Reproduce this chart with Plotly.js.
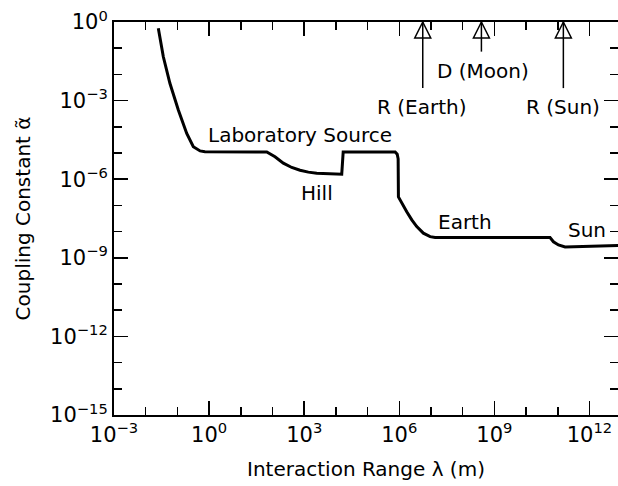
<!DOCTYPE html>
<html>
<head>
<meta charset="utf-8">
<script src="https://cdn.plot.ly/plotly-3.0.1.min.js"></script>
<style>html,body{margin:0;padding:0;background:#fff;}#chart{width:618px;height:486px;}</style>
</head>
<body>
<div id="chart"></div>
<script>
// Limit curve: interaction range lambda (m) vs coupling constant alpha
const lambdaM = [0.025, 0.036, 0.058, 0.107, 0.197, 0.318, 0.52, 0.74,
  66, 120, 220, 405, 740, 1350, 2490, 6550, 15300, 17000,
  740000, 860000, 920000, 940000, 1.2e6, 1.72e6, 2.48e6, 3.56e6, 5.75e6, 9.4e6, 1.35e7,
  5.7e10, 7.3e10, 1.05e11, 1.7e11, 8e12];
const alphaLimit = [0.58, 0.047, 4.6e-3, 4.4e-4, 5.6e-5, 1.74e-5, 1.2e-5, 1.12e-5,
  1.1e-5, 7.2e-6, 4.1e-6, 2.8e-6, 2.2e-6, 1.86e-6, 1.7e-6, 1.58e-6, 1.55e-6, 1.1e-5,
  1.1e-5, 9e-6, 6e-6, 2.1e-7, 1.2e-7, 5.7e-8, 2.8e-8, 1.55e-8, 8.7e-9, 6.4e-9, 5.9e-9,
  5.9e-9, 4.1e-9, 3.1e-9, 2.6e-9, 2.95e-9];

// Tick labels
const tickExponentsX = [-3, 0, 3, 6, 9, 12];
const tickExponentsY = [-15, -12, -9, -6, -3, 0];

// Reference scales marked with arrows at the top
const markerNames = ["R (Earth)", "D (Moon)", "R (Sun)"];
const markerLambda = [5.5e6, 3.9e8, 1.5e11];
const markerBase = [3e-3, 0.074, 3e-3];
const markerTip = [1, 1, 1];
const markerLabelAlpha = [5.7e-4, 0.0138, 5.7e-4];
const markerLabelLambda = [5.1e6, 4.4e8, 1.5e11];

// Region labels
const regionNames = ["Laboratory Source", "Hill", "Earth", "Sun"];
const regionLambda = [740, 2500, 1.2e8, 8.5e11];
const regionAlpha = [4.9e-5, 3e-7, 2.4e-8, 1.15e-8];

const FONT = "DejaVu Sans, Liberation Sans, Arial, sans-serif";

function powLabel(e) { return '10<sup>' + (e < 0 ? '\u2212' + (-e) : e) + '</sup>'; }

const traces = [{
  x: lambdaM, y: alphaLimit, type: 'scatter', mode: 'lines',
  line: {color: '#000', width: 3}, hoverinfo: 'skip', showlegend: false
}];
for (let i = 0; i < markerNames.length; i++) {
  traces.push({
    x: [markerLambda[i], markerLambda[i]], y: [markerBase[i], markerTip[i]],
    type: 'scatter', mode: 'lines', line: {color: '#000', width: 1.5},
    showlegend: false, hoverinfo: 'skip', cliponaxis: false
  });
}
traces.push({
  x: markerLambda, y: markerTip, type: 'scatter', mode: 'markers',
  marker: {symbol: 'arrow-up-open', size: 16, color: '#000', line: {color: '#000', width: 1.5}},
  showlegend: false, hoverinfo: 'skip', cliponaxis: false
});

const annotations = [];
for (let i = 0; i < regionNames.length; i++) {
  annotations.push({x: Math.log10(regionLambda[i]), y: Math.log10(regionAlpha[i]), xref: 'x', yref: 'y',
    text: regionNames[i], showarrow: false, font: {family: FONT, size: 20, color: '#000'}});
}
for (let i = 0; i < markerNames.length; i++) {
  annotations.push({x: Math.log10(markerLabelLambda[i]), y: Math.log10(markerLabelAlpha[i]), xref: 'x', yref: 'y',
    text: markerNames[i], showarrow: false, font: {family: FONT, size: 20, color: '#000'}});
}

const axisCommon = {
  type: 'log', showgrid: false, zeroline: false,
  showline: true, linecolor: '#000', linewidth: 2, mirror: 'allticks',
  ticks: 'inside', ticklen: 14, tickwidth: 1.5, tickcolor: '#000',
  tickfont: {family: FONT, size: 21, color: '#000'},
  minor: {dtick: 1, ticks: 'inside', ticklen: 8, tickwidth: 1.5, tickcolor: '#000', showgrid: false}
};

const layout = {
  width: 618, height: 486,
  margin: {l: 114, r: 0, t: 22, b: 71},
  paper_bgcolor: '#fff', plot_bgcolor: '#fff',
  font: {family: FONT, color: '#000', size: 20},
  xaxis: Object.assign({}, axisCommon, {
    range: [-3, 12.9],
    tickmode: 'array',
    tickvals: tickExponentsX.map(e => Math.pow(10, e)),
    ticktext: tickExponentsX.map(powLabel),
    title: {text: 'Interaction Range λ (m)', font: {family: FONT, size: 20, color: '#000'}, standoff: 16}
  }),
  yaxis: Object.assign({}, axisCommon, {
    range: [-15, 0],
    tickmode: 'array',
    tickvals: tickExponentsY.map(e => Math.pow(10, e)),
    ticktext: tickExponentsY.map(powLabel),
    title: {text: 'Coupling Constant α̃', font: {family: FONT, size: 20, color: '#000'}, standoff: 14}
  }),
  annotations: annotations,
  showlegend: false
};

Plotly.newPlot('chart', traces, layout, {staticPlot: true, displayModeBar: false});
</script>
</body>
</html>
